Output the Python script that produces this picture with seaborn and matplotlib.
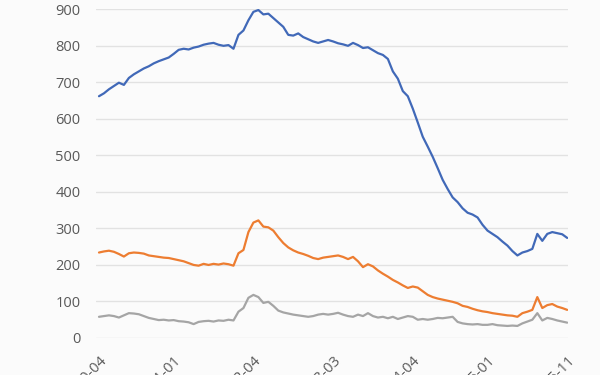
import numpy as np
import pandas as pd
import matplotlib
matplotlib.use("Agg")
import matplotlib.pyplot as plt
import seaborn as sns

# DATOS (leídos a ojo del gráfico de referencia)

azul = [662, 670, 681, 690, 699, 693, 712, 722, 730, 738,
        744, 752, 758, 763, 768, 778, 789, 792, 790, 795,
        798, 803, 806, 808, 803, 800, 802, 792, 830, 842,
        870, 893, 898, 886, 888, 876, 864, 852, 830, 828,
        834, 824, 818, 812, 808, 812, 816, 812, 807, 804,
        800, 808, 802, 794, 796, 788, 780, 775, 764, 730,
        710, 676, 662, 628, 590, 551, 524, 496, 465, 433,
        408, 385, 372, 355, 343, 338, 330, 310, 294, 285,
        276, 264, 253, 238, 226, 234, 238, 244, 285, 266,
        285, 290, 287, 284, 274]

naranja = [234, 237, 239, 236, 230, 223, 232, 234, 233, 231,
           226, 224, 222, 220, 219, 216, 213, 210, 205, 200,
           198, 203, 200, 203, 201, 204, 202, 198, 232, 241,
           290, 316, 322, 305, 303, 294, 276, 260, 248, 240,
           234, 230, 225, 219, 216, 220, 222, 224, 226, 222,
           216, 222, 210, 194, 202, 196, 185, 176, 168, 159,
           152, 144, 137, 141, 138, 128, 118, 112, 108, 105,
           102, 99, 95, 88, 85, 80, 76, 73, 71, 68,
           66, 64, 62, 61, 58, 68, 72, 77, 112, 82,
           90, 93, 86, 82, 77]

gris = [58, 60, 62, 60, 56, 62, 68, 67, 65, 60,
        55, 52, 49, 50, 48, 49, 46, 45, 43, 38,
        44, 46, 47, 45, 48, 47, 50, 48, 72, 82,
        110, 118, 112, 96, 99, 88, 75, 70, 67, 64,
        62, 60, 58, 60, 64, 66, 64, 66, 69, 64,
        60, 58, 64, 60, 68, 60, 56, 58, 54, 58,
        52, 56, 60, 58, 50, 52, 50, 52, 55, 54,
        56, 58, 44, 40, 38, 37, 38, 36, 36, 38,
        35, 34, 33, 34, 33, 40, 45, 50, 68, 48,
        55, 52, 48, 45, 42]

posiciones_ticks = [0, 15, 31, 47, 63, 78, 94]
etiquetas_ticks = ["2010-04", "2011-01", "2012-04", "2013-03",
                   "2014-04", "2015-01", "2015-11"]
ticks_y = [0, 100, 200, 300, 400, 500, 600, 700, 800, 900]

colores = ["#4169B8", "#ED7D31", "#A5A5A5"]

# TABLA LARGA PARA SEABORN

idx = np.arange(len(azul))
df = pd.concat([
    pd.DataFrame({"x": idx, "valor": azul, "serie": "azul"}),
    pd.DataFrame({"x": idx, "valor": naranja, "serie": "naranja"}),
    pd.DataFrame({"x": idx, "valor": gris, "serie": "gris"}),
])

# GRÁFICO

sns.set_theme(style="white")
plt.rcParams["font.family"] = ["Open Sans", "DejaVu Sans"]

fig = plt.figure(figsize=(6, 3.75), dpi=100)
fig.patch.set_facecolor("#fbfbfb")
ax = fig.add_axes([0.16, 0.0987, 0.787, 0.8765])
ax.set_facecolor("#fbfbfb")

sns.lineplot(data=df, x="x", y="valor", hue="serie",
             palette=colores, linewidth=1.6, legend=False, ax=ax)

ax.set_xlim(-0.6, 94.2)
ax.set_ylim(0, 900)
ax.set_yticks(ticks_y)
ax.set_xticks(posiciones_ticks)
ax.set_xticklabels(etiquetas_ticks, rotation=45, ha="right",
                   rotation_mode="anchor")
ax.yaxis.grid(True, color="#e2e2e2", linewidth=1)
ax.set_axisbelow(True)
ax.tick_params(axis="y", length=0, pad=11, labelsize=10.5, labelcolor="#595959")
ax.tick_params(axis="x", length=0, pad=11, labelsize=10.5, labelcolor="#595959")
ax.set_xlabel("")
ax.set_ylabel("")
for s in ax.spines.values():
    s.set_visible(False)

plt.savefig("out.png", dpi=100, facecolor=fig.get_facecolor())
